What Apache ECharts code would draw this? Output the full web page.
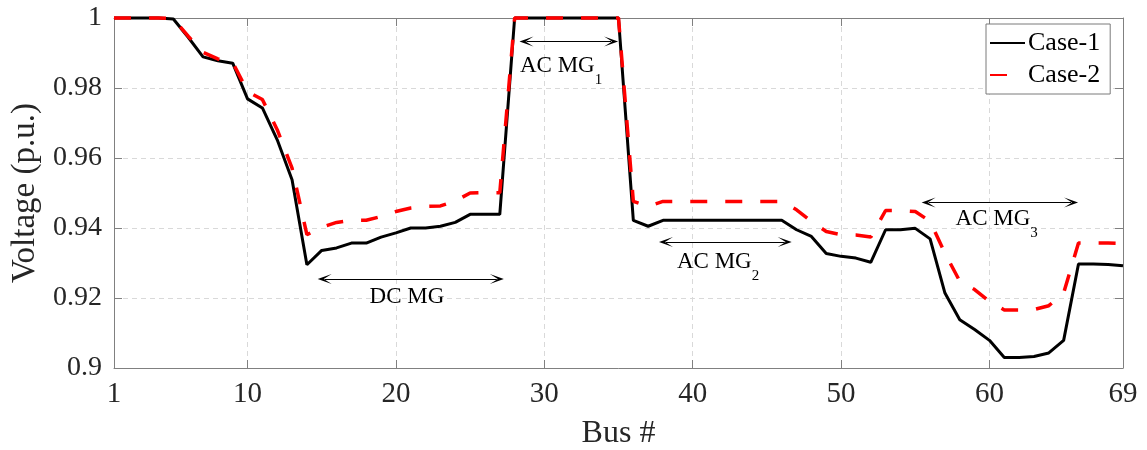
<!DOCTYPE html>
<html>
<head>
<meta charset="utf-8">
<script src="https://cdn.jsdelivr.net/npm/echarts@6/dist/echarts.min.js"></script>
<style>
  html, body { margin: 0; padding: 0; background: #ffffff; }
  #chart { width: 1147px; height: 450px; }
</style>
</head>
<body>
<div id="chart"></div>
<script>
// Bus numbers along the feeder
const buses = [1, 2, 3, 4, 5, 6, 7, 8, 9, 10, 11, 12, 13, 14, 15, 16, 17, 18, 19, 20,
  21, 22, 23, 24, 25, 26, 27, 28, 29, 30, 31, 32, 33, 34, 35, 36, 37, 38, 39, 40,
  41, 42, 43, 44, 45, 46, 47, 48, 49, 50, 51, 52, 53, 54, 55, 56, 57, 58, 59, 60,
  61, 62, 63, 64, 65, 66, 67, 68, 69];

// Bus voltages (p.u.)
const case1 = [1.0, 1.0, 1.0, 1.0, 0.9997, 0.9945, 0.9889, 0.9878, 0.9871, 0.9769,
  0.9743, 0.9652, 0.9538, 0.9295, 0.9336, 0.9343, 0.9357, 0.9357, 0.9374, 0.9386,
  0.9400, 0.9400, 0.9405, 0.9416, 0.9439, 0.9439, 0.9439, 1.0, 1.0, 1.0,
  1.0, 1.0, 1.0, 1.0, 1.0, 0.9422, 0.9405, 0.9422, 0.9422, 0.9422,
  0.9422, 0.9422, 0.9422, 0.9422, 0.9422, 0.9422, 0.9395, 0.9376, 0.9327, 0.9319,
  0.9314, 0.9302, 0.9395, 0.9395, 0.9399, 0.9369, 0.9214, 0.9138, 0.9110, 0.9079,
  0.9030, 0.9030, 0.9033, 0.9043, 0.9079, 0.9297, 0.9297, 0.9296, 0.9292];

const case2 = [1.0, 1.0, 1.0, 1.0, 0.9998, 0.9948, 0.9902, 0.9883, 0.9873, 0.9790,
  0.9767, 0.9681, 0.9571, 0.9381, 0.9402, 0.9416, 0.9422, 0.9422, 0.9433, 0.9447,
  0.9457, 0.9462, 0.9463, 0.9477, 0.9500, 0.9501, 0.9501, 1.0, 1.0, 1.0,
  1.0, 1.0, 1.0, 1.0, 1.0, 0.9476, 0.9462, 0.9476, 0.9476, 0.9476,
  0.9476, 0.9476, 0.9476, 0.9476, 0.9476, 0.9476, 0.9452, 0.9419, 0.9390, 0.9381,
  0.9380, 0.9374, 0.9450, 0.9450, 0.9447, 0.9419, 0.9328, 0.9248, 0.9224, 0.9190,
  0.9166, 0.9166, 0.9167, 0.9178, 0.9214, 0.9357, 0.9357, 0.9357, 0.9356];

const xTicks = [1, 10, 20, 30, 40, 50, 60, 69];
const seriesNames = ['Case-1', 'Case-2'];

// Microgrid spans: [label, subscript, startBus, endBus, arrowVoltage, textBus, textVoltage]
const regions = [
  ['DC MG', '', 15.2, 26.8, 0.9254, 20.74, 0.92037],
  ['AC MG', '1', 28.8, 34.5, 0.9933, 31.13, 0.98223],
  ['AC MG', '2', 38.2, 46.2, 0.9360, 41.71, 0.92637],
  ['AC MG', '3', 55.9, 65.5, 0.9473, 60.49, 0.93866]
];

const FONT = 'Liberation Serif';
const INK = '#262626';
const AXIS_GRAY = '#808080';

const pairs = vals => buses.map((b, i) => [b, vals[i]]);

const arrowHead = 'path://M5,0 L10,14 L5,6 L0,14 Z';

const chart = echarts.init(document.getElementById('chart'), null, { renderer: 'canvas' });

const serifLabel = size => ({ fontFamily: FONT, fontSize: size, color: INK });

chart.setOption({
  animation: false,
  backgroundColor: '#ffffff',
  textStyle: { fontFamily: FONT },
  grid: { left: 114, right: 24, top: 18, bottom: 82, show: false, containLabel: false, outerBoundsMode: 'none' },
  legend: {
    left: 986, top: 24,
    orient: 'vertical',
    data: seriesNames,
    itemWidth: 35, itemHeight: 14, itemGap: 6,
    padding: [6, 10, 6, 3],
    backgroundColor: '#ffffff',
    borderColor: '#7a7a7a', borderWidth: 1,
    itemStyle: { opacity: 0 },
    textStyle: { fontFamily: FONT, fontSize: 26, color: '#000000', padding: [0, 0, 0, -2] }
  },
  xAxis: [{
    type: 'value', min: 1, max: 69,
    name: 'Bus #', nameLocation: 'middle', nameGap: 50,
    nameTextStyle: serifLabel(32),
    axisLine: { show: true, lineStyle: { color: AXIS_GRAY, width: 1 } },
    axisTick: { show: true, inside: true, length: 8, customValues: xTicks, lineStyle: { color: AXIS_GRAY } },
    axisLabel: Object.assign({ customValues: xTicks, margin: 12 }, serifLabel(29)),
    splitLine: { show: true, lineStyle: { color: '#d9d9d9', type: [5, 4], width: 1 } }
  }, {
    type: 'value', min: 1, max: 69, position: 'top',
    axisLine: { show: true, onZero: false, lineStyle: { color: AXIS_GRAY, width: 1 } },
    axisTick: { show: true, inside: true, length: 8, customValues: xTicks, lineStyle: { color: AXIS_GRAY } },
    axisLabel: { show: false },
    splitLine: { show: false }
  }],
  yAxis: [{
    type: 'value', min: 0.9, max: 1, interval: 0.02,
    name: 'Voltage (p.u.)', nameLocation: 'middle', nameGap: 72,
    nameTextStyle: serifLabel(33),
    axisLine: { show: true, lineStyle: { color: AXIS_GRAY, width: 1 } },
    axisTick: { show: true, inside: true, length: 8, lineStyle: { color: AXIS_GRAY } },
    axisLabel: Object.assign({ margin: 12 }, serifLabel(28)),
    splitLine: { show: true, lineStyle: { color: '#d9d9d9', type: [5, 4], width: 1 } }
  }, {
    type: 'value', min: 0.9, max: 1, interval: 0.02, position: 'right',
    axisLine: { show: true, onZero: false, lineStyle: { color: AXIS_GRAY, width: 1 } },
    axisTick: { show: true, inside: true, length: 8, lineStyle: { color: AXIS_GRAY } },
    axisLabel: { show: false },
    splitLine: { show: false }
  }],
  series: [{
    name: seriesNames[0],
    type: 'line',
    data: pairs(case1),
    symbol: 'none',
    clip: false,
    color: '#000000',
    lineStyle: { color: '#000000', width: 3 },
    markLine: {
      silent: true,
      symbol: [arrowHead, arrowHead],
      symbolSize: [10, 14],
      lineStyle: { color: '#000000', width: 1, type: 'solid' },
      label: { show: false },
      data: regions.map(r => [{ coord: [r[2], r[4]] }, { coord: [r[3], r[4]] }])
    },
    markPoint: {
      silent: true,
      symbol: 'circle',
      symbolSize: 1,
      itemStyle: { color: 'rgba(0,0,0,0)' },
      label: {
        show: true,
        position: 'inside',
        color: '#000000',
        fontFamily: FONT,
        formatter: p => p.data.sub ? '{main|' + p.data.text + '}{sub|' + p.data.sub + '}' : '{plain|' + p.data.text + '}',
        rich: {
          plain: { fontFamily: FONT, fontSize: 23, color: '#000000' },
          main: { fontFamily: FONT, fontSize: 23, lineHeight: 24, verticalAlign: 'top', color: '#000000' },
          sub: { fontFamily: FONT, fontSize: 15, lineHeight: 51, verticalAlign: 'middle', color: '#000000' }
        }
      },
      data: regions.map(r => ({ coord: [r[5], r[6]], text: r[0], sub: r[1] }))
    }
  }, {
    name: seriesNames[1],
    type: 'line',
    data: pairs(case2),
    symbol: 'none',
    clip: false,
    color: '#ff0000',
    lineStyle: { color: '#ff0000', width: 3.5, type: [17, 18] }
  }]
});
</script>
</body>
</html>
